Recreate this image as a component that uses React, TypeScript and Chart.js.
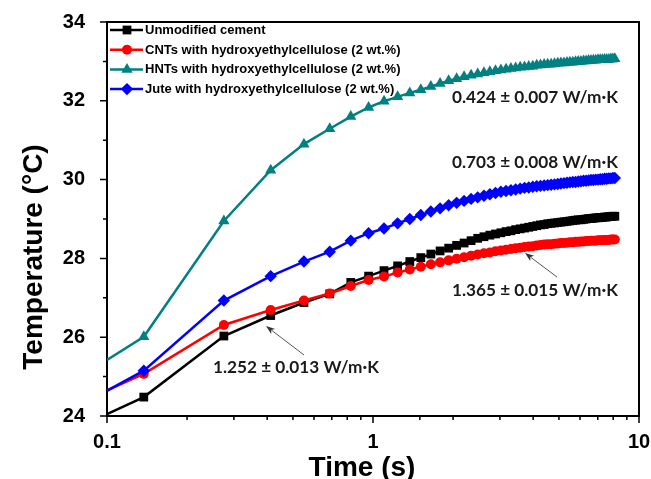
import React, { useEffect, useRef } from 'react';
import { Chart, registerables } from 'chart.js';

Chart.register(...registerables);

// Time (s)
const TIME = [
  0.1, 0.1375, 0.275, 0.4125, 0.55, 0.6875, 0.825, 0.9625, 1.1, 1.2375,
  1.375, 1.5125, 1.65, 1.7875, 1.925, 2.0625, 2.2, 2.3375, 2.475, 2.6125,
  2.75, 2.8875, 3.025, 3.1625, 3.3, 3.4375, 3.575, 3.7125, 3.85, 3.9875,
  4.125, 4.2625, 4.4, 4.5375, 4.675, 4.8125, 4.95, 5.0875, 5.225, 5.3625,
  5.5, 5.6375, 5.775, 5.9125, 6.05, 6.1875, 6.325, 6.4625, 6.6, 6.7375,
  6.875, 7.0125, 7.15, 7.2875, 7.425, 7.5625, 7.7, 7.8375, 7.975, 8.1125,
];

const UNMODIFIED = [
  24.05, 24.48, 26.03, 26.55, 26.88, 27.10, 27.39, 27.55, 27.69, 27.81,
  27.92, 28.02, 28.11, 28.19, 28.26, 28.33, 28.39, 28.45, 28.51, 28.55,
  28.59, 28.62, 28.65, 28.68, 28.70, 28.73, 28.75, 28.77, 28.79, 28.81,
  28.83, 28.85, 28.86, 28.88, 28.89, 28.90, 28.91, 28.92, 28.93, 28.94,
  28.95, 28.96, 28.97, 28.98, 28.98, 28.99, 29.00, 29.01, 29.01, 29.02,
  29.03, 29.03, 29.04, 29.04, 29.05, 29.05, 29.06, 29.06, 29.07, 29.07,
];

const CNT_HEC = [
  24.65, 25.07, 26.31, 26.69, 26.93, 27.11, 27.30, 27.45, 27.54, 27.64,
  27.72, 27.79, 27.85, 27.90, 27.95, 27.99, 28.03, 28.07, 28.10, 28.13,
  28.15, 28.18, 28.20, 28.22, 28.24, 28.26, 28.27, 28.29, 28.30, 28.31,
  28.33, 28.34, 28.35, 28.36, 28.36, 28.37, 28.38, 28.39, 28.39, 28.40,
  28.41, 28.41, 28.42, 28.42, 28.43, 28.43, 28.44, 28.44, 28.45, 28.45,
  28.45, 28.46, 28.46, 28.46, 28.47, 28.47, 28.47, 28.48, 28.48, 28.48,
];

const HNT_HEC = [
  25.42, 26.01, 28.95, 30.24, 30.90, 31.29, 31.60, 31.83, 31.99, 32.10,
  32.20, 32.28, 32.36, 32.44, 32.51, 32.56, 32.61, 32.65, 32.68, 32.71,
  32.74, 32.76, 32.78, 32.80, 32.82, 32.83, 32.85, 32.86, 32.87, 32.88,
  32.90, 32.91, 32.92, 32.93, 32.93, 32.94, 32.95, 32.96, 32.96, 32.97,
  32.98, 32.98, 32.99, 33.00, 33.00, 33.01, 33.01, 33.02, 33.02, 33.03,
  33.03, 33.04, 33.04, 33.04, 33.05, 33.05, 33.05, 33.06, 33.06, 33.07,
];

const JUTE_HEC = [
  24.64, 25.15, 26.93, 27.55, 27.92, 28.17, 28.45, 28.64, 28.76, 28.89,
  29.00, 29.10, 29.19, 29.27, 29.35, 29.41, 29.46, 29.51, 29.55, 29.59,
  29.63, 29.66, 29.69, 29.71, 29.73, 29.75, 29.77, 29.79, 29.80, 29.82,
  29.83, 29.84, 29.85, 29.86, 29.87, 29.88, 29.89, 29.90, 29.91, 29.92,
  29.93, 29.94, 29.94, 29.95, 29.96, 29.97, 29.97, 29.98, 29.99, 29.99,
  30.00, 30.00, 30.01, 30.01, 30.02, 30.02, 30.03, 30.03, 30.04, 30.04,
];

const SERIES_LABELS = [
  'Unmodified cement',
  'CNTs with hydroxyethylcellulose (2 wt.%)',
  'HNTs with hydroxyethylcellulose (2 wt.%)',
  'Jute with hydroxyethylcellulose (2 wt.%)',
];

const ANNOTATIONS = [
  '0.424 ± 0.007 W/m·K',
  '0.703 ± 0.008 W/m·K',
  '1.365 ± 0.015 W/m·K',
  '1.252 ± 0.013 W/m·K',
];

const X_TITLE = 'Time (s)';
const Y_TITLE = 'Temperature (°C)';

function drawMarker(ctx: CanvasRenderingContext2D, style: string, x: number, y: number, r: number, color: string) {
  ctx.save();
  ctx.fillStyle = color;
  ctx.beginPath();
  if (style === 'rect') {
    const s = Math.SQRT1_2 * r;
    ctx.rect(x - s, y - s, 2 * s, 2 * s);
  } else if (style === 'circle') {
    ctx.arc(x, y, r, 0, Math.PI * 2);
  } else if (style === 'triangle') {
    for (let k = 0; k < 3; k++) {
      const a = (k * 2 * Math.PI) / 3;
      const px = x + Math.sin(a) * r;
      const py = y - Math.cos(a) * r;
      if (k === 0) ctx.moveTo(px, py); else ctx.lineTo(px, py);
    }
    ctx.closePath();
  } else {
    ctx.moveTo(x, y - r);
    ctx.lineTo(x + r, y);
    ctx.lineTo(x, y + r);
    ctx.lineTo(x - r, y);
    ctx.closePath();
  }
  ctx.fill();
  ctx.restore();
}

function arrow(ctx: CanvasRenderingContext2D, x1: number, y1: number, x2: number, y2: number) {
  const ang = Math.atan2(y2 - y1, x2 - x1);
  const hl = 9, hw = 3.2;
  ctx.save();
  ctx.strokeStyle = '#555';
  ctx.fillStyle = '#333';
  ctx.lineWidth = 1;
  ctx.beginPath();
  ctx.moveTo(x1, y1);
  ctx.lineTo(x2 - Math.cos(ang) * hl * 0.8, y2 - Math.sin(ang) * hl * 0.8);
  ctx.stroke();
  ctx.beginPath();
  ctx.moveTo(x2, y2);
  ctx.lineTo(x2 - Math.cos(ang) * hl + Math.sin(ang) * hw, y2 - Math.sin(ang) * hl - Math.cos(ang) * hw);
  ctx.lineTo(x2 - Math.cos(ang) * hl * 0.75, y2 - Math.sin(ang) * hl * 0.75);
  ctx.lineTo(x2 - Math.cos(ang) * hl - Math.sin(ang) * hw, y2 - Math.sin(ang) * hl + Math.cos(ang) * hw);
  ctx.closePath();
  ctx.fill();
  ctx.restore();
}

const isPow10 = (v: number) => {
  const l = Math.log10(v);
  return Math.abs(l - Math.round(l)) < 1e-6;
};

export default function App() {
  const ref = useRef<HTMLCanvasElement>(null);

  useEffect(() => {
    document.body.style.margin = '0';
    const series = [
      { data: UNMODIFIED, color: '#000000', style: 'rect', r: 6.2, order: 4 },
      { data: CNT_HEC, color: '#ff0000', style: 'circle', r: 5, order: 3 },
      { data: HNT_HEC, color: '#008080', style: 'triangle', r: 6.5, order: 2 },
      { data: JUTE_HEC, color: '#0000ff', style: 'rectRot', r: 6.2, order: 1 },
    ];

    const overlay = {
      id: 'overlay',
      afterDraw(chart: any) {
        const ctx: CanvasRenderingContext2D = chart.ctx;
        const { left, right, top, bottom } = chart.chartArea;
        ctx.save();
        ctx.strokeStyle = '#000';
        ctx.lineWidth = 2;
        ctx.beginPath();
        ctx.moveTo(left - 1, top);
        ctx.lineTo(right, top);
        ctx.lineTo(right, bottom + 1);
        ctx.stroke();

        ctx.lineWidth = 1.5;
        ctx.beginPath();
        const xs = chart.scales.x;
        xs.ticks.forEach((t: any) => {
          const px = xs.getPixelForValue(t.value);
          const len = isPow10(t.value) ? 7 : 4;
          ctx.moveTo(px, bottom);
          ctx.lineTo(px, bottom + len);
        });
        const ys = chart.scales.y;
        ys.ticks.forEach((t: any) => {
          const py = ys.getPixelForValue(t.value);
          const len = t.value % 2 === 0 ? 7 : 4;
          ctx.moveTo(left, py);
          ctx.lineTo(left - len, py);
        });
        ctx.stroke();

        // axis titles
        ctx.fillStyle = '#000';
        ctx.font = 'bold 28px "Liberation Sans", Arial, sans-serif';
        ctx.textAlign = 'center';
        ctx.textBaseline = 'alphabetic';
        ctx.fillText(X_TITLE, 362, 476);
        ctx.save();
        ctx.translate(42, 257);
        ctx.rotate(-Math.PI / 2);
        ctx.fillText(Y_TITLE, 0, 0);
        ctx.restore();

        // legend
        ctx.font = 'bold 13px "Liberation Sans", Arial, sans-serif';
        ctx.textAlign = 'left';
        ctx.textBaseline = 'middle';
        series.forEach((s, i) => {
          const y = 30 + 19.7 * i;
          ctx.strokeStyle = s.color;
          ctx.lineWidth = 2.5;
          ctx.beginPath();
          ctx.moveTo(110, y);
          ctx.lineTo(143, y);
          ctx.stroke();
          drawMarker(ctx, s.style, 127, y, s.r, s.color);
          ctx.fillStyle = '#000';
          ctx.fillText(SERIES_LABELS[i], 145, y + 0.5);
        });

        // annotations
        ctx.font = 'bold 16px Lato, "Open Sans", sans-serif';
        const w = ctx.measureText(ANNOTATIONS[0]).width;
        const fs = (16 * 166) / w;
        ctx.font = `bold ${fs.toFixed(2)}px Lato, "Open Sans", sans-serif`;
        ctx.fillStyle = '#1a1a1a';
        ctx.textBaseline = 'middle';
        ctx.fillText(ANNOTATIONS[0], 452, 97);
        ctx.fillText(ANNOTATIONS[1], 452, 162);
        ctx.fillText(ANNOTATIONS[2], 452, 290);
        ctx.fillText(ANNOTATIONS[3], 213, 367);

        arrow(ctx, 557, 277, 525, 253);
        arrow(ctx, 304, 355, 266, 326);
        ctx.restore();
      },
    };

    const font = { family: '"Liberation Sans", Arial, sans-serif', size: 20, weight: 'bold' as const };

    const chart = new Chart(ref.current as HTMLCanvasElement, {
      type: 'line',
      data: {
        datasets: series.map((s, i) => ({
          label: SERIES_LABELS[i],
          data: TIME.map((t, k) => ({ x: t, y: s.data[k] })),
          borderColor: s.color,
          backgroundColor: s.color,
          borderWidth: 2.5,
          pointStyle: s.style as any,
          pointRadius: (c: any) => (c.dataIndex === 0 ? 0 : s.r),
          pointBorderWidth: 0,
          pointBackgroundColor: s.color,
          pointBorderColor: s.color,
          tension: 0,
          order: s.order,
        })),
      },
      options: {
        responsive: false,
        animation: false,
        events: [],
        layout: { padding: { top: 22, right: 12, left: 0, bottom: 0 } },
        plugins: { legend: { display: false }, tooltip: { enabled: false } },
        scales: {
          x: {
            type: 'logarithmic',
            min: 0.1,
            max: 10,
            afterFit: (sc: any) => { sc.height = 63; sc.paddingLeft = 0; sc.paddingRight = 0; },
            grid: { display: false },
            border: { display: true, color: '#000', width: 2 },
            ticks: {
              autoSkip: false,
              maxRotation: 0,
              padding: 6,
              color: '#000',
              font,
              callback: (v: any) => (isPow10(Number(v)) ? String(Number(v)) : ''),
            },
          },
          y: {
            min: 24,
            max: 34,
            afterFit: (sc: any) => { sc.width = 107; sc.paddingTop = 0; sc.paddingBottom = 0; },
            grid: { display: false },
            border: { display: true, color: '#000', width: 2 },
            ticks: {
              stepSize: 1,
              padding: 14,
              color: '#000',
              font,
              callback: (v: any) => (Number(v) % 2 === 0 ? String(v) : ''),
            },
          },
        },
      },
      plugins: [overlay],
    });
    return () => chart.destroy();
  }, []);

  return <canvas ref={ref} width={651} height={479} style={{ display: 'block', width: 651, height: 479 }} />;
}
